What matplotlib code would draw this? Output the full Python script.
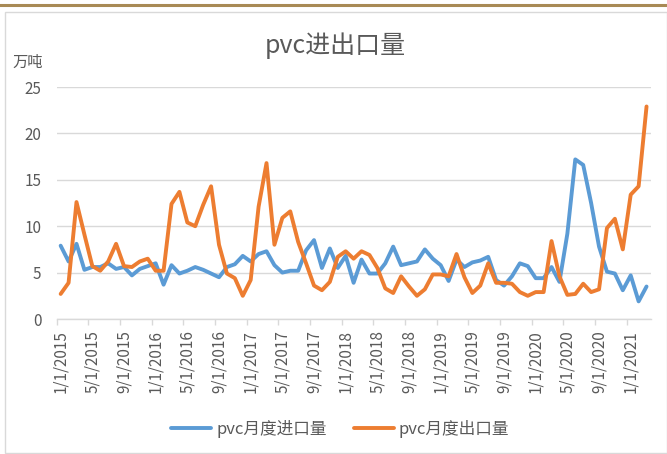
import matplotlib
matplotlib.use("Agg")
import matplotlib.pyplot as plt
from matplotlib.patches import Rectangle
from matplotlib.lines import Line2D
import numpy as np
import pandas as pd

plt.rcParams["font.family"] = ["Noto Sans CJK SC", "DejaVu Sans"]

# monthly data, Jan 2015 - Mar 2021 (万吨)
months = pd.date_range("2015-01-01", periods=75, freq="MS")

imports = [
    7.9, 6.2, 8.1, 5.3, 5.6, 5.6, 6.0, 5.4, 5.6, 4.7, 5.4, 5.7,
    6.0, 3.7, 5.8, 4.9, 5.2, 5.6, 5.3, 4.9, 4.5, 5.6, 5.9, 6.8,
    6.2, 7.0, 7.3, 5.8, 5.0, 5.2, 5.2, 7.4, 8.5, 5.5, 7.6, 5.5,
    6.8, 3.9, 6.4, 4.9, 4.9, 6.0, 7.8, 5.8, 6.0, 6.2, 7.5, 6.5,
    5.8, 4.1, 6.4, 5.6, 6.1, 6.3, 6.7, 4.2, 3.6, 4.6, 6.0, 5.7,
    4.4, 4.4, 5.6, 4.0, 9.2, 17.2, 16.6, 12.5, 7.8, 5.1, 4.9, 3.1,
    4.7, 1.9, 3.5,
]
exports = [
    2.7, 3.9, 12.6, 9.1, 5.7, 5.2, 6.2, 8.1, 5.7, 5.6, 6.2, 6.5,
    5.2, 5.2, 12.4, 13.7, 10.4, 10.0, 12.3, 14.3, 8.0, 4.9, 4.4, 2.5,
    4.2, 12.1, 16.8, 8.0, 10.9, 11.6, 8.3, 6.0, 3.6, 3.1, 4.0, 6.7,
    7.3, 6.5, 7.3, 6.9, 5.5, 3.3, 2.8, 4.6, 3.5, 2.5, 3.2, 4.8,
    4.8, 4.6, 7.0, 4.5, 2.8, 3.6, 6.0, 3.9, 3.9, 3.8, 2.9, 2.5,
    2.9, 2.9, 8.4, 4.6, 2.6, 2.7, 3.8, 2.9, 3.2, 9.8, 10.8, 7.5,
    13.4, 14.3, 22.9,
]
series_names = ["pvc月度进口量", "pvc月度出口量"]
colors = ["#5B9BD5", "#ED7D31"]
text_color = "#595959"
grid_color = "#D9D9D9"

W, H = 667, 454
fig = plt.figure(figsize=(W / 100, H / 100), dpi=100)

# outer decorations: gold rule and chart border
fig.add_artist(Line2D([0, 1], [1 - 4.8 / H, 1 - 4.8 / H], color="#A88A55",
                      lw=2.2, transform=fig.transFigure))
fig.add_artist(Rectangle((5 / W, 1 / H), (W - 5) / W, (H - 12.5) / H,
                         transform=fig.transFigure, fill=False,
                         edgecolor="#D9D9D9", lw=1))

ax = fig.add_axes([56.7 / W, 1 - 319 / H, (650.5 - 56.7) / W, (319 - 87) / H])
x = np.arange(len(months))
ax.plot(x, imports, color=colors[0], lw=2.8, solid_joinstyle="round",
        solid_capstyle="round", label=series_names[0], zorder=3)
ax.plot(x, exports, color=colors[1], lw=2.8, solid_joinstyle="round",
        solid_capstyle="round", label=series_names[1], zorder=3)

ax.set_xlim(-0.5, len(months) - 0.5)
ax.set_ylim(0, 25)
ax.set_yticks(range(0, 26, 5))
ax.yaxis.grid(True, color=grid_color, lw=1)
ax.set_axisbelow(True)
for s in ["top", "right", "left"]:
    ax.spines[s].set_visible(False)
ax.spines["bottom"].set_color(grid_color)
ax.spines["bottom"].set_linewidth(1)

lab_pos = x[::4]
ax.set_xticks(lab_pos)
ax.set_xticklabels([f"{months[i].month}/1/{months[i].year}" for i in lab_pos],
                   rotation=90)
ax.set_xticks(np.arange(-0.5, len(months), 4), minor=True)
ax.tick_params(axis="x", which="major", length=0, pad=8, labelsize=11,
               labelcolor=text_color)
ax.tick_params(axis="x", which="minor", length=4, color=grid_color, width=1)
ax.tick_params(axis="y", length=0, pad=11, labelsize=11, labelcolor=text_color)

fig.text(0.503, 1 - 46 / H, "pvc进出口量", ha="center", va="center",
         fontsize=18, color=text_color)
fig.text(12 / W, 1 - 62 / H, "万吨", ha="left", va="center",
         fontsize=11, color=text_color)

leg = fig.legend(loc="center", bbox_to_anchor=(0.51, 1 - 429 / H), ncol=2,
                 frameon=False, fontsize=12, handlelength=2.4,
                 handletextpad=0.3, columnspacing=1.6, labelcolor=text_color)

fig.savefig("out.png", dpi=100)
